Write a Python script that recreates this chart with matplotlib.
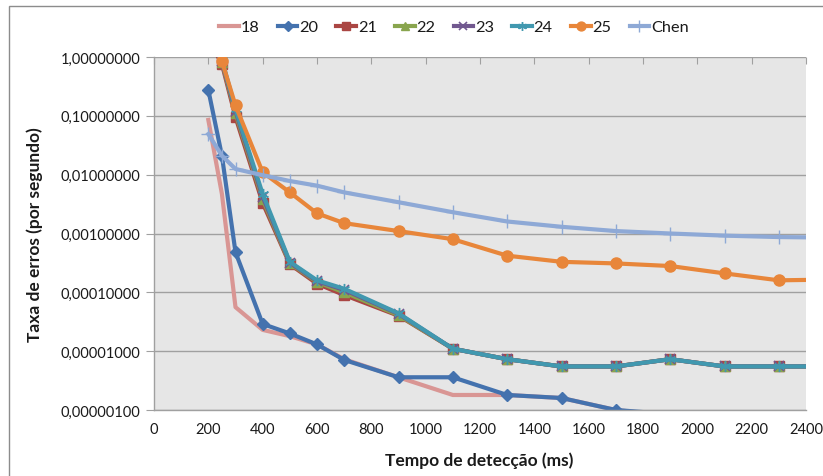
import matplotlib.pyplot as plt
from matplotlib.patches import Rectangle
from matplotlib.ticker import FixedLocator, FuncFormatter, NullLocator

plt.rcParams['font.family'] = ['Lato', 'DejaVu Sans']

# detection time (ms); the last point lies past the visible range
tempo = [200, 250, 300, 400, 500, 600, 700, 900, 1100, 1300, 1500, 1700, 1900, 2100, 2300, 2500]

s18 = [0.085, 0.0047, 5.6e-5, 2.3e-5, 1.8e-5, 1.3e-5, 7.3e-6, 3.6e-6, 1.8e-6, 1.8e-6,
       1.6e-6, 1.0e-6, 8e-7, 7e-7, 6e-7, 6e-7]
s20 = [0.275, 0.021, 4.8e-4, 2.9e-5, 2.0e-5, 1.3e-5, 7.1e-6, 3.6e-6, 3.6e-6, 1.8e-6,
       1.6e-6, 1.0e-6, 8.5e-7, 7e-7, 6e-7, 6e-7]
s21 = [2.0, 0.76, 0.095, 0.0033, 3.0e-4, 1.4e-4, 9.0e-5, 4.0e-5, 1.1e-5, 7.3e-6,
       5.5e-6, 5.5e-6, 7.3e-6, 5.5e-6, 5.5e-6, 5.5e-6]
s22 = [2.2, 0.82, 0.11, 0.0038, 3.1e-4, 1.5e-4, 1.0e-4, 4.1e-5, 1.1e-5, 7.3e-6,
       5.5e-6, 5.5e-6, 7.3e-6, 5.5e-6, 5.5e-6, 5.5e-6]
s23 = [2.3, 0.85, 0.12, 0.0042, 3.2e-4, 1.55e-4, 1.1e-4, 4.3e-5, 1.1e-5, 7.3e-6,
       5.5e-6, 5.5e-6, 7.3e-6, 5.5e-6, 5.5e-6, 5.5e-6]
s24 = [2.4, 0.9, 0.13, 0.0047, 3.3e-4, 1.6e-4, 1.15e-4, 4.4e-5, 1.1e-5, 7.3e-6,
       5.5e-6, 5.5e-6, 7.3e-6, 5.5e-6, 5.5e-6, 5.5e-6]
s25 = [3.0, 0.85, 0.15, 0.011, 0.005, 0.0022, 0.0015, 0.0011, 8.0e-4, 4.2e-4,
       3.3e-4, 3.1e-4, 2.8e-4, 2.1e-4, 1.6e-4, 1.65e-4]
chen = [0.049, 0.021, 0.0125, 0.0098, 0.0078, 0.0065, 0.005, 0.0034, 0.0023, 0.0016,
        0.0013, 0.0011, 0.001, 9.2e-4, 8.7e-4, 8.5e-4]

series = [
    ("18", s18, "#D99694", None, 0, 1),
    ("20", s20, "#4472AE", "D", 6, 1),
    ("21", s21, "#AA4643", "s", 6.5, 1),
    ("22", s22, "#89A54E", "^", 6.5, 1),
    ("23", s23, "#71588F", "x", 7, 1.2),
    ("24", s24, "#4198AF", (6, 2, 0), 8, 1),
    ("25", s25, "#E8863A", "o", 8, 1),
    ("Chen", chen, "#8EA9D6", "+", 10, 1),
]

YMIN, YMAX = 1e-6, 1
TXT = "#1a1a1a"
fig = plt.figure(figsize=(8.23, 4.77), dpi=100)
W, H = 823, 477
ax = fig.add_axes([154 / W, 1 - 411 / H, (806 - 154) / W, (411 - 58) / H])

# outer chart frame
fig.patches.append(Rectangle((9 / W, -0.1), 1.2, 1 - 7 / H + 0.1, transform=fig.transFigure,
                             fill=False, edgecolor="#8C8C8C", linewidth=1.0))

ax.set_facecolor("#E6E6E6")
for name, vals, color, marker, ms, mew in series:
    # like the spreadsheet, markers of points below the axis minimum are not shown
    shown = [i for i, v in enumerate(vals) if v >= YMIN * 0.99]
    ax.plot(tempo, vals, color=color, linewidth=3, marker=marker, markersize=ms,
            markeredgewidth=mew, markeredgecolor=color, label=name, markevery=shown)

ax.set_yscale("log")
ax.set_ylim(YMIN, YMAX)
ax.set_xlim(0, 2400)
ax.set_xticks(range(0, 2401, 200))
ax.yaxis.set_major_locator(FixedLocator([10.0 ** k for k in range(-6, 1)]))
ax.yaxis.set_minor_locator(NullLocator())
ax.yaxis.set_major_formatter(FuncFormatter(lambda v, p: f"{v:.8f}".replace(".", ",")))
ax.grid(axis="y", color="#A0A0A0", linewidth=1)
ax.set_axisbelow(True)

for side in ("top", "right"):
    ax.spines[side].set_visible(False)
for side in ("left", "bottom"):
    ax.spines[side].set_color("#A0A0A0")
    ax.spines[side].set_linewidth(1)

ax.tick_params(axis="y", direction="out", length=6, color="#A0A0A0", labelsize=10.5,
               labelcolor=TXT, pad=4)
ax.tick_params(axis="x", bottom=False, top=True, direction="in", length=5,
               color="#A0A0A0", labelsize=10.5, labelcolor=TXT, pad=9)

ax.set_xlabel("Tempo de detecção (ms)", fontsize=12.5, fontweight="bold", color=TXT)
ax.set_ylabel("Taxa de erros (por segundo)", fontsize=12.5, fontweight="bold", color=TXT)
ax.xaxis.set_label_coords((479 - 154) / 652, (411 - 452) / 353)
ax.yaxis.set_label_coords((43 - 154) / 652, 0.5)

fig.legend(loc="center", bbox_to_anchor=(454 / W, 1 - 28 / H), ncol=8, frameon=False,
           fontsize=11.8, handlelength=1.2, handletextpad=0.1, columnspacing=1.12,
           markerscale=0.8, labelcolor=TXT)

fig.savefig("out.png", dpi=100)
